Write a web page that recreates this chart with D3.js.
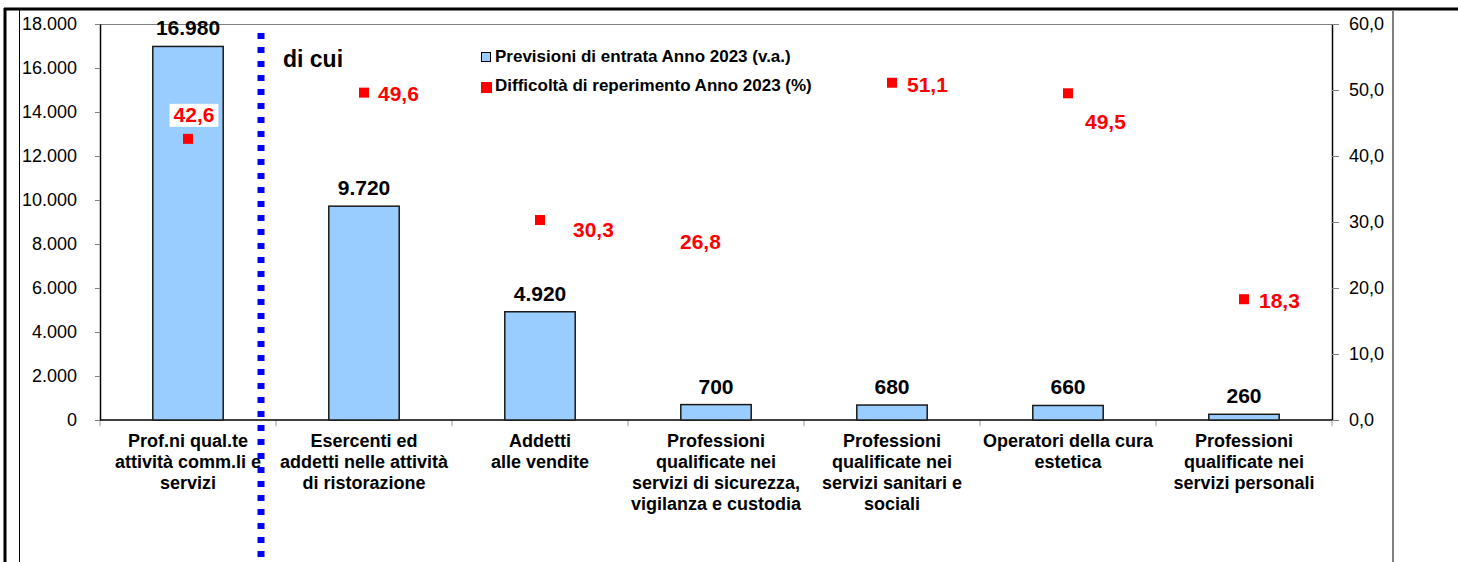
<!DOCTYPE html>
<html>
<head>
<meta charset="utf-8">
<script src="https://cdn.jsdelivr.net/npm/d3@7"></script>
<style>
  body { margin: 0; background: #fff; }
  svg { display: block; font-family: "Liberation Sans", Arial, sans-serif; }
</style>
</head>
<body>
<div id="chart"></div>
<script>
// categories (one array of lines per label)
const categories = [
    ['Prof.ni qual.te', 'attività comm.li e', 'servizi'],
    ['Esercenti ed', 'addetti nelle attività', 'di ristorazione'],
    ['Addetti', 'alle vendite'],
    ['Professioni', 'qualificate nei', 'servizi di sicurezza,', 'vigilanza e custodia'],
    ['Professioni', 'qualificate nei', 'servizi sanitari e', 'sociali'],
    ['Operatori della cura', 'estetica'],
    ['Professioni', 'qualificate nei', 'servizi personali']
];
const entrate = [16980, 9720, 4920, 700, 680, 660, 260];
const difficolta = [42.6, 49.6, 30.3, 26.8, 51.1, 49.5, 18.3];
const leftTicks = [0, 2000, 4000, 6000, 8000, 10000, 12000, 14000, 16000, 18000];
const rightTicks = [0, 10, 20, 30, 40, 50, 60];
const legendLabels = ['Previsioni di entrata Anno 2023 (v.a.)', 'Difficoltà di reperimento Anno 2023 (%)'];

// where each red label sits relative to its marker (moved by hand in the original)
const labelOffsets = [[6, -17, 'middle'], [14, 8, 'start'], [33, 17, 'start'], [-36, 6, 'start'],
                      [15, 9, 'start'], [17, 36, 'start'], [15, 9, 'start']];

const it = d3.formatLocale({ decimal: ',', thousands: '.', grouping: [3], currency: ['€', ''] });
const fmtInt = it.format(',d');
const fmtPct = it.format(',.1f');

function drawChart() {
    const width = 1458, height = 562;
    const left = 100, right = 1332, top = 24, bottom = 420;

    const svg = d3.select('#chart').append('svg')
        .attr('width', width)
        .attr('height', height);

    // page frame
    svg.append('line').attr('x1', 4).attr('x2', width).attr('y1', 9).attr('y2', 9)
        .attr('stroke', '#000').attr('stroke-width', 3);
    svg.append('line').attr('x1', 5).attr('x2', 5).attr('y1', 8).attr('y2', height)
        .attr('stroke', '#000').attr('stroke-width', 3);
    svg.append('line').attr('x1', 19.5).attr('x2', 19.5).attr('y1', 10).attr('y2', height)
        .attr('stroke', '#000').attr('stroke-width', 1);
    svg.append('line').attr('x1', 1393).attr('x2', 1393).attr('y1', 10).attr('y2', height)
        .attr('stroke', '#808080').attr('stroke-width', 2);

    const x = d3.scaleBand()
        .domain(d3.range(categories.length))
        .range([left, right])
        .paddingInner(0.6)
        .paddingOuter(0.3);
    const yL = d3.scaleLinear().domain([0, 18000]).range([bottom, top]);
    const yR = d3.scaleLinear().domain([0, 60]).range([bottom, top]);
    const cx = i => x(i) + x.bandwidth() / 2;

    // plot top border
    svg.append('line').attr('x1', left).attr('x2', right).attr('y1', top + 0.5).attr('y2', top + 0.5)
        .attr('stroke', '#808080').attr('stroke-width', 1);

    const axL = svg.append('g')
        .attr('transform', `translate(${left},0)`)
        .call(d3.axisLeft(yL).tickValues(leftTicks).tickFormat(fmtInt).tickSize(5).tickSizeOuter(0).tickPadding(18));
    const axR = svg.append('g')
        .attr('transform', `translate(${right},0)`)
        .call(d3.axisRight(yR).tickValues(rightTicks).tickFormat(fmtPct).tickSize(7).tickSizeOuter(0).tickPadding(10));
    [axL, axR].forEach(ax => {
        ax.select('.domain').attr('stroke', '#000').attr('stroke-width', 1.5);
        ax.selectAll('.tick line').attr('stroke', '#808080');
        ax.selectAll('.tick text').attr('font-size', 18).attr('fill', '#000')
            .attr('font-family', '"Liberation Sans", Arial, sans-serif');
    });

    // category axis
    const bounds = d3.range(categories.length + 1).map(i => left + x.step() * i);
    svg.append('g').selectAll('line').data(bounds).enter().append('line')
        .attr('x1', d => d).attr('x2', d => d).attr('y1', bottom).attr('y2', bottom + 6)
        .attr('stroke', '#999');
    svg.append('line').attr('x1', left).attr('x2', right).attr('y1', bottom).attr('y2', bottom)
        .attr('stroke', '#000').attr('stroke-width', 1.5);

    const catText = svg.append('g').selectAll('text').data(categories).enter().append('text')
        .attr('text-anchor', 'middle')
        .attr('font-size', 18)
        .attr('font-weight', 'bold')
        .attr('fill', '#000');
    catText.each(function (lines, i) {
        d3.select(this).selectAll('tspan').data(lines).enter().append('tspan')
            .attr('x', cx(i))
            .attr('y', (d, j) => 447 + j * 21)
            .text(d => d);
    });

    // bars
    svg.append('g').selectAll('rect').data(entrate).enter().append('rect')
        .attr('x', (d, i) => x(i))
        .attr('y', d => yL(d))
        .attr('width', x.bandwidth())
        .attr('height', d => bottom - yL(d))
        .attr('fill', '#99CCFF')
        .attr('stroke', '#1a1a1a')
        .attr('stroke-width', 1.5);

    svg.append('g').selectAll('text').data(entrate).enter().append('text')
        .attr('x', (d, i) => cx(i))
        .attr('y', d => yL(d) - 11)
        .attr('text-anchor', 'middle')
        .attr('font-size', 21)
        .attr('font-weight', 'bold')
        .attr('fill', '#000')
        .text(d => fmtInt(d));

    // "di cui" separator
    const sepX = bounds[1] - 15;
    svg.append('line').attr('x1', sepX).attr('x2', sepX).attr('y1', 33).attr('y2', height)
        .attr('stroke', '#0000FF').attr('stroke-width', 7).attr('stroke-dasharray', '6 8');
    svg.append('text').attr('x', sepX + 22).attr('y', 67)
        .attr('font-size', 23).attr('font-weight', 'bold').attr('fill', '#000')
        .text('di cui');

    // difficulty markers
    svg.append('g').selectAll('rect').data(difficolta).enter().append('rect')
        .attr('x', (d, i) => cx(i) - 5)
        .attr('y', d => yR(d) - 5)
        .attr('width', 10)
        .attr('height', 10)
        .attr('fill', '#FF0000');

    const lab = svg.append('g').selectAll('g').data(difficolta).enter().append('g');
    lab.each(function (d, i) {
        const g = d3.select(this);
        const [dx, dy, anchor] = labelOffsets[i];
        const t = g.append('text')
            .attr('x', cx(i) + dx)
            .attr('y', yR(d) + dy)
            .attr('text-anchor', anchor)
            .attr('font-size', 21)
            .attr('font-weight', 'bold')
            .attr('fill', '#FF0000')
            .text(fmtPct(d));
        const b = t.node().getBBox();
        g.insert('rect', 'text')
            .attr('x', b.x - 4).attr('y', b.y + 1)
            .attr('width', b.width + 8).attr('height', b.height)
            .attr('fill', '#fff');
    });

    // legend
    const leg = svg.append('g').attr('transform', 'translate(481,0)');
    leg.append('rect').attr('x', 0.5).attr('y', 52.5).attr('width', 9).attr('height', 9)
        .attr('fill', '#99CCFF').attr('stroke', '#000');
    leg.append('rect').attr('x', 0).attr('y', 82).attr('width', 11).attr('height', 11)
        .attr('fill', '#FF0000');
    leg.selectAll('text').data(legendLabels).enter().append('text')
        .attr('x', 14)
        .attr('y', (d, i) => 62 + i * 29)
        .attr('font-size', 17)
        .attr('font-weight', 'bold')
        .attr('fill', '#000')
        .text(d => d);
}

window.onload = drawChart;
</script>
</body>
</html>
